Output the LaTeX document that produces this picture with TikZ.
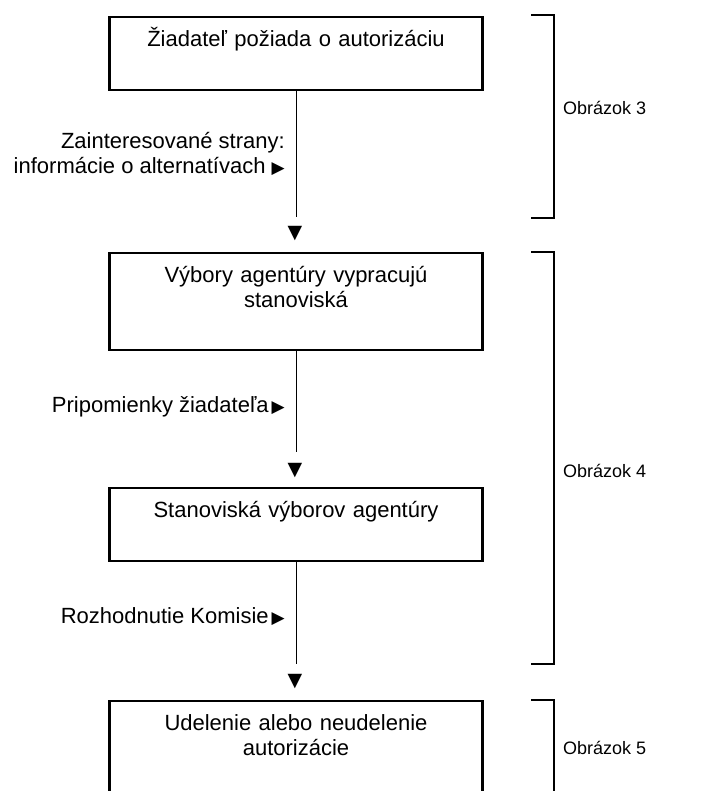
\documentclass[tikz,border=0pt]{standalone}
\usepackage{fontspec}
\setmainfont{Liberation Sans}
\newfontfamily\symfont{DejaVu Sans}
\newcommand{\rtri}{{\fontsize{17}{17}\symfont ▶}}
\begin{document}
\begin{tikzpicture}[x=1pt,y=-1pt,
  stepbox/.style={draw, line width=2.3pt, anchor=north, minimum width=373pt,
    text width=360pt, align=center, inner xsep=0pt, inner ysep=13pt,
    text height=16pt, font=\fontsize{22}{25.3}\selectfont},
  box1/.style={stepbox, text depth=31pt},
  box2/.style={stepbox, text depth=55pt},
  flow/.style={line width=0.9pt},
  lbl/.style={font=\fontsize{22}{25.3}\selectfont, inner sep=0pt, align=right},
  tri/.style={font=\fontsize{19}{19}\symfont, inner sep=0pt},
  brk/.style={line width=1.2pt},
  fig/.style={font=\fontsize{18}{20}\selectfont, inner sep=0pt, anchor=base west}
]
\clip (0,0) rectangle (712,791);
\fill[white] (0,0) rectangle (712,791);

% boxes
\node[box1] (b1) at (296,16) {Žiadateľ požiada o autorizáciu};
\node[box2] (b2) at (296,252) {Výbory agentúry vypracujú\\stanoviská};
\node[box1] (b3) at (296,487) {Stanoviská výborov agentúry};
\node[box2] (b4) at (296,700) {Udelenie alebo neudelenie\\autorizácie};

% triangles
\node[tri] (t1) at (295,234) {▼};
\node[tri] (t2) at (295,471) {▼};
\node[tri] (t3) at (295,682) {▼};

% connector ends
\coordinate (c1) at (296,217);
\coordinate (c2) at (296,452);
\coordinate (c3) at (296,664);
\draw[flow] (b1.south) -- (c1);
\draw[flow] (b2.south) -- (c2);
\draw[flow] (b3.south) -- (c3);

% labels
\node[lbl, anchor=north east] (l1) at (285,132) {Zainteresované strany:\\informácie o alternatívach \rtri};
\node[lbl, anchor=base east] (l2) at (285,412) {Pripomienky žiadateľa\kern3pt\rtri};
\node[lbl, anchor=base east] (l3) at (285,623) {Rozhodnutie Komisie\kern3pt\rtri};

% brackets
\draw[brk] (531,15) -- (554,15) -- (554,218) -- (531,218);
\draw[brk] (531,252) -- (554,252) -- (554,664) -- (531,664);
\draw[brk] (531,700) -- (554,700) -- (554,800);

\node[fig] (o3) at (563,115) {Obrázok 3};
\node[fig] (o4) at (563,477) {Obrázok 4};
\node[fig] (o5) at (563,754) {Obrázok 5};
\end{tikzpicture}
\end{document}
